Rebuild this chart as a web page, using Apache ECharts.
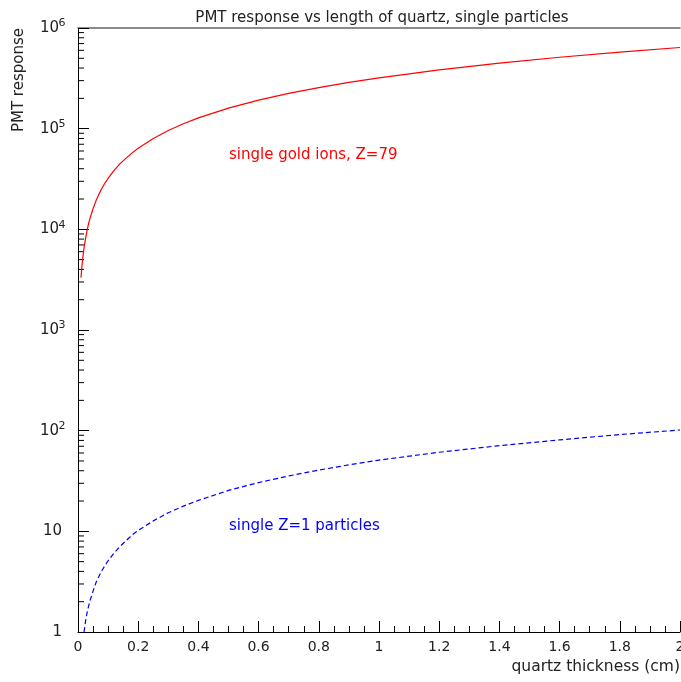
<!DOCTYPE html>
<html>
<head>
<meta charset="utf-8">
<script src="https://cdn.jsdelivr.net/npm/echarts@6/dist/echarts.min.js"></script>
<style>
  html, body { margin: 0; padding: 0; background: #fff; }
  #chart { width: 681px; height: 682px; }
</style>
</head>
<body>
<div id="chart"></div>
<script>
// quartz thickness (cm)
const thickness = [0.01, 0.0125, 0.015, 0.0175, 0.02, 0.025, 0.03, 0.035, 0.04, 0.05, 0.06, 0.07, 0.08, 0.09, 0.1, 0.12, 0.14, 0.16, 0.18, 0.2, 0.25, 0.3, 0.35, 0.4, 0.5, 0.6, 0.7, 0.8, 0.9, 1.0, 1.2, 1.4, 1.6, 1.8, 2.0];
// PMT response, single gold ions (Z=79)
const goldResponse = [3300, 4100, 4900, 5700, 6500, 8100, 9700, 11300, 12900, 16000, 19300, 22500, 25700, 29000, 32000, 38500, 45000, 51000, 57500, 64000, 80000, 96000, 112000, 128000, 160000, 192000, 224000, 256000, 288000, 320000, 384000, 448000, 512000, 576000, 640000];
// PMT response, single Z=1 particles
const protonResponse = [null, null, null, null, 1.0, 1.28, 1.55, 1.8, 2.05, 2.55, 3.1, 3.6, 4.1, 4.6, 5.1, 6.1, 7.1, 8.1, 9.2, 10.2, 12.7, 15.3, 17.8, 20.3, 25.5, 30.5, 35.5, 40.6, 45.7, 51, 61, 71, 81, 91.5, 101.5];

const decades = [1, 10, 100, 1000, 10000, 100000];
const minorMult = [2, 3, 4, 5, 6, 7, 8, 9];
const yMinorTicks = [];
decades.forEach(d => minorMult.forEach(m => yMinorTicks.push([0, d * m])));

const FONT = 'DejaVu Sans';
const TXT = '#222';

const chart = echarts.init(document.getElementById('chart'), null, { renderer: 'canvas' });

chart.setOption({
  backgroundColor: '#fff',
  animation: false,
  title: {
    text: 'PMT response vs length of quartz, single particles',
    left: 377, top: 6, textAlign: 'center',
    textStyle: { color: TXT, fontFamily: FONT, fontSize: 15, fontWeight: 'normal' }
  },
  grid: { left: 78, right: 1, top: 28, bottom: 50, outerBoundsMode: 'none', containLabel: false },
  xAxis: [{
    type: 'value', min: 0, max: 2, interval: 0.2,
    axisLine: { lineStyle: { color: '#000', width: 1 } },
    axisTick: { inside: true, length: 11, lineStyle: { color: '#000' } },
    minorTick: { show: true, splitNumber: 4, length: 6, lineStyle: { color: '#000' } },
    splitLine: { show: false },
    axisLabel: { color: TXT, fontFamily: FONT, fontSize: 14, margin: 8 }
  }, {
    type: 'value', position: 'top', min: 0, max: 2,
    axisLine: { show: true, lineStyle: { color: '#666', width: 1.5 } },
    axisTick: { show: false }, axisLabel: { show: false }, splitLine: { show: false }
  }],
  yAxis: {
    type: 'log', logBase: 10, min: 1, max: 1000000,
    axisLine: { show: true, lineStyle: { color: '#000', width: 1 } },
    axisTick: { show: true, inside: true, length: 11, lineStyle: { color: '#000' } },
    splitLine: { show: false },
    axisLabel: {
      color: TXT, fontFamily: FONT, fontSize: 15, margin: 16, lineHeight: 22,
      formatter: v => {
        const n = Math.round(Math.log10(v));
        if (n === 0) return '1';
        if (n === 1) return '10';
        return '10{sup|' + n + '}';
      },
      rich: { sup: { fontSize: 11, fontFamily: FONT, color: TXT, verticalAlign: 'top', width: 0, align: 'left', padding: [1, 0, 0, 3] } }
    }
  },
  graphic: [
    { type: 'text', x: 19, y: 28, rotation: Math.PI / 2,
      style: { text: 'PMT response', fill: TXT, font: '15px ' + FONT, align: 'right', verticalAlign: 'middle' } },
    { type: 'text', x: 680, y: 667,
      style: { text: 'quartz thickness (cm)', fill: TXT, font: '15.5px ' + FONT, align: 'right', verticalAlign: 'middle' } },
    { type: 'text', x: 229, y: 155,
      style: { text: 'single gold ions, Z=79', fill: '#ff0000', font: '15px ' + FONT, align: 'left', verticalAlign: 'middle' } },
    { type: 'text', x: 229, y: 526,
      style: { text: 'single Z=1 particles', fill: '#0000ff', font: '15px ' + FONT, align: 'left', verticalAlign: 'middle' } }
  ],
  series: [{
    name: 'gold', type: 'line', showSymbol: false, smooth: false,
    data: thickness.map((x, i) => [x, goldResponse[i]]),
    lineStyle: { color: '#ff0000', width: 1.2 }
  }, {
    name: 'Z=1', type: 'line', showSymbol: false, smooth: false,
    data: thickness.map((x, i) => [x, protonResponse[i]]).filter(d => d[1] != null),
    lineStyle: { color: '#0000ff', width: 1.2, type: [5, 3] }
  }, {
    name: 'yminor', type: 'custom', silent: true, clip: false,
    data: yMinorTicks,
    renderItem: (params, api) => {
      const p = api.coord([0, api.value(1)]);
      return { type: 'line', shape: { x1: p[0], y1: p[1], x2: p[0] + 6, y2: p[1] },
        style: { stroke: '#000', lineWidth: 1 } };
    }
  }]
});
</script>
</body>
</html>
